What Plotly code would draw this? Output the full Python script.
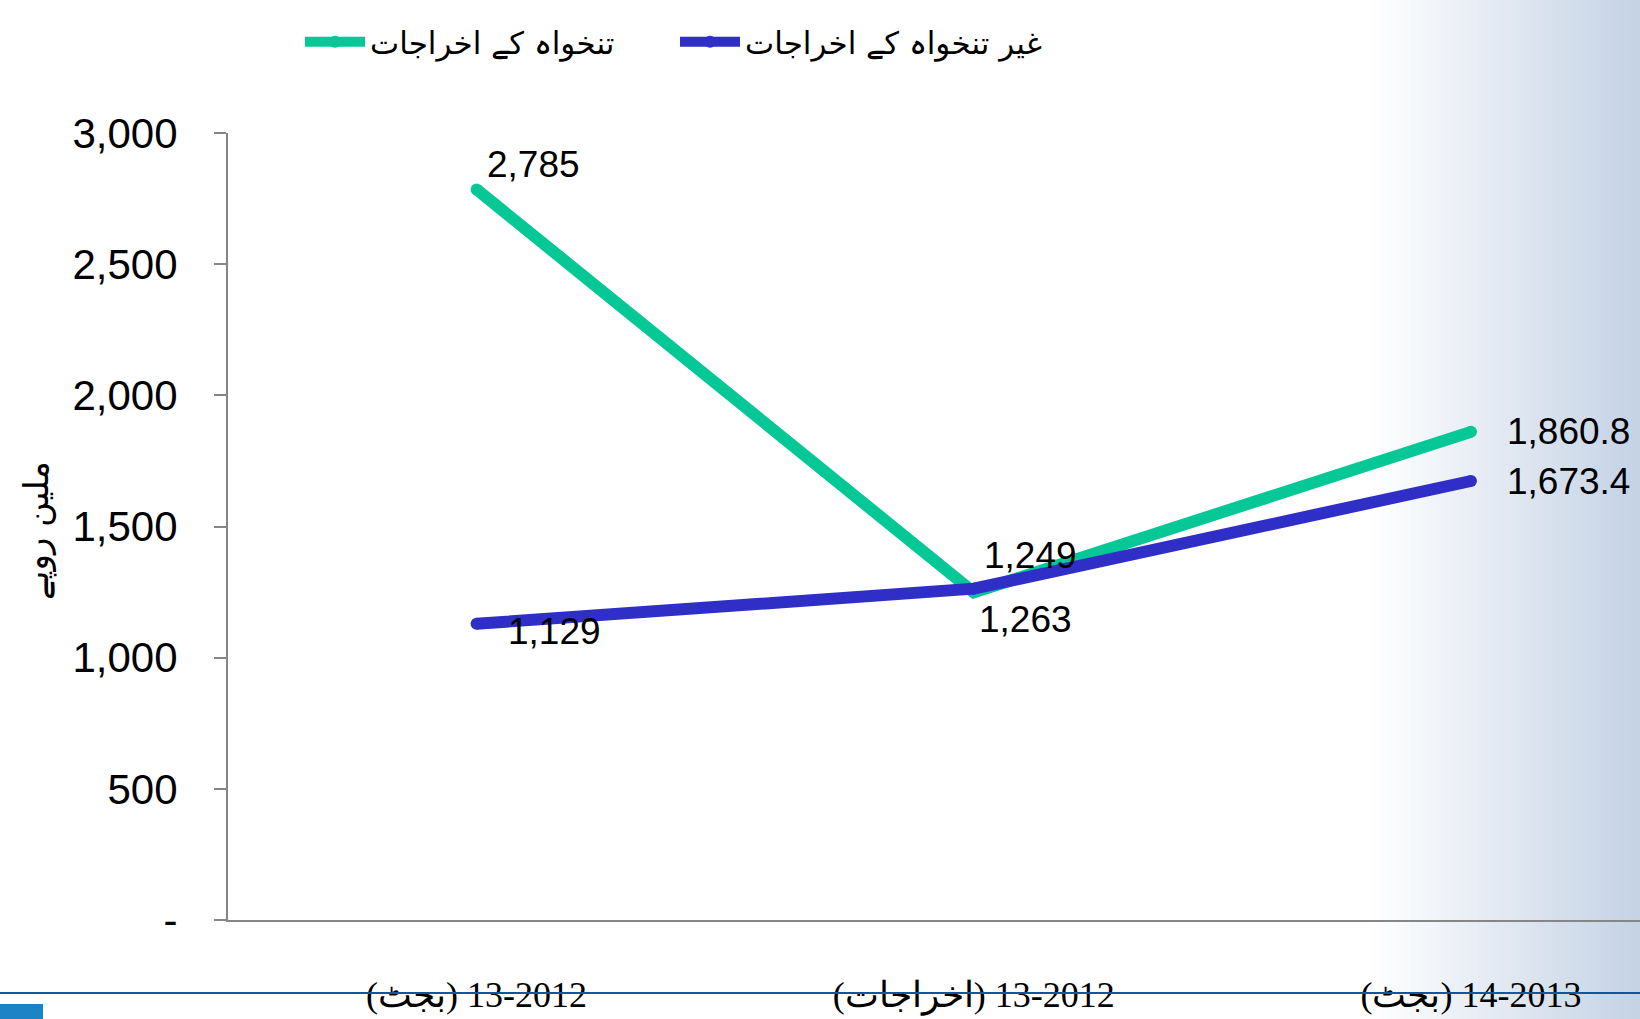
import plotly.graph_objects as go

# data
categories = ["(بجٹ\u200e) 13-2012", "(اخراجات\u200e) 13-2012", "(بجٹ\u200e) 14-2013"]
salary = [2785, 1249, 1860.8]
non_salary = [1129, 1263, 1673.4]
y_ticks = [0, 500, 1000, 1500, 2000, 2500, 3000]
y_ticktext = ["-", "500", "1,000", "1,500", "2,000", "2,500", "3,000"]

GREEN = "#05C896"
BLUE = "#2F2EC6"
AXIS = "#868686"

W, H = 1640, 1019
L, R, T, B = 228, 0, 133, 99
PW, PH = W - L - R, H - T - B


def px(x):
    return (x - L) / PW


def py(y):
    return (H - B - y) / PH


xs = list(range(len(categories)))

fig = go.Figure()
fig.add_trace(go.Scatter(
    x=xs, y=salary, name="تنخواہ کے اخراجات",
    mode="lines+markers",
    line=dict(color=GREEN, width=12),
    marker=dict(color=GREEN, size=12),
))
fig.add_trace(go.Scatter(
    x=xs, y=non_salary, name="غیر تنخواہ کے اخراجات",
    mode="lines+markers",
    line=dict(color=BLUE, width=12),
    marker=dict(color=BLUE, size=12),
))

# data labels (offsets in px)
label_font = dict(family="Arial, Liberation Sans", size=37, color="black")
annotations = []
green_off = [(8, 25), (8, 37), (34, 0)]
blue_off = [(29, -8), (3, -31), (34, 0)]
for vals, offs in ((salary, green_off), (non_salary, blue_off)):
    for x, v, (dx, dy) in zip(xs, vals, offs):
        annotations.append(dict(
            x=x, y=v, text=f"{v:,}", showarrow=False,
            xanchor="left", yanchor="middle", xshift=dx, yshift=dy,
            font=label_font,
        ))
annotations.append(dict(
    text="ملین روپے", xref="paper", yref="paper",
    x=px(36), y=py(530), xanchor="center", yanchor="middle",
    textangle=-90, showarrow=False,
    font=dict(family="DejaVu Sans", size=34, color="black"),
))

shapes = []
# soft blue gradient on the right edge
n = 40
x_start, x_end = 1370, W
c0, c1 = (255, 255, 255), (196, 210, 229)
for i in range(n):
    t = (i + 0.5) / n
    col = tuple(round(a + (b - a) * t) for a, b in zip(c0, c1))
    shapes.append(dict(
        type="rect", xref="paper", yref="paper", layer="below",
        x0=px(x_start + (x_end - x_start) * i / n),
        x1=px(x_start + (x_end - x_start) * (i + 1) / n + 1),
        y0=py(H), y1=py(0),
        line=dict(width=0), fillcolor="rgb(%d,%d,%d)" % col,
    ))
# footer rule and logo stub
shapes.append(dict(type="line", xref="paper", yref="paper", layer="above",
                   x0=px(0), x1=px(W), y0=py(993), y1=py(993),
                   line=dict(color="#0B58A0", width=2)))
shapes.append(dict(type="rect", xref="paper", yref="paper",
                   x0=px(0), x1=px(43), y0=py(1019), y1=py(1004),
                   line=dict(width=0), fillcolor="#1C84C6"))

fig.update_layout(
    width=W, height=H,
    margin=dict(l=L, r=R, t=T, b=B),
    paper_bgcolor="white", plot_bgcolor="rgba(0,0,0,0)",
    shapes=shapes,
    annotations=annotations,
    showlegend=True,
    legend=dict(
        orientation="h", x=px(300), xanchor="left", y=py(42), yanchor="middle",
        entrywidth=300, entrywidthmode="pixels", itemwidth=60,
        font=dict(family="DejaVu Sans", size=31, color="black"),
        bgcolor="rgba(0,0,0,0)",
    ),
    xaxis=dict(
        range=[-0.5, 2.34], tickvals=xs, ticktext=categories,
        showline=True, linecolor=AXIS, linewidth=2, ticks="",
        showgrid=False, zeroline=False,
        tickfont=dict(family="Liberation Serif, Times New Roman", size=36, color="black"),
        ticklabelstandoff=42,
    ),
    yaxis=dict(
        range=[0, 3000], tickvals=y_ticks, ticktext=y_ticktext,
        showline=True, linecolor=AXIS, linewidth=2,
        ticks="outside", ticklen=12, tickcolor=AXIS, tickwidth=2,
        showgrid=False, zeroline=False,
        tickfont=dict(family="Arial, Liberation Sans", size=42, color="black"),
        ticklabelstandoff=28,
    ),
)

fig.write_html("out.html", config={"displayModeBar": False},
               post_script="document.body.style.margin='0';")
